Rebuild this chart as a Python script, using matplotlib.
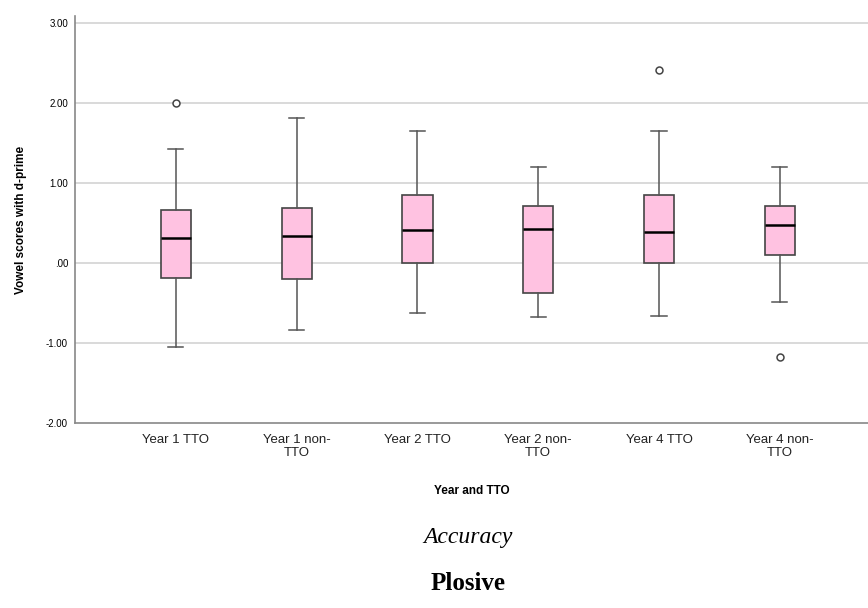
import matplotlib
matplotlib.use("Agg")
import matplotlib.pyplot as plt

# Box statistics (d-prime scores)
groups = ["Year 1 TTO", "Year 1 non-\nTTO", "Year 2 TTO",
          "Year 2 non-\nTTO", "Year 4 TTO", "Year 4 non-\nTTO"]
whisker_low = [-1.05, -0.84, -0.62, -0.67, -0.66, -0.49]
q1 = [-0.19, -0.20, 0.00, -0.37, 0.00, 0.10]
medians = [0.31, 0.34, 0.41, 0.43, 0.39, 0.47]
q3 = [0.67, 0.69, 0.85, 0.72, 0.85, 0.72]
whisker_high = [1.43, 1.82, 1.65, 1.20, 1.65, 1.20]
outliers = [[2.00], [], [], [], [2.41], [-1.18]]

y_ticks = [-2, -1, 0, 1, 2, 3]
y_tick_labels = ["-2.00", "-1.00", ".00", "1.00", "2.00", "3.00"]

stats = []
for i in range(len(groups)):
    stats.append({"whislo": whisker_low[i], "q1": q1[i], "med": medians[i],
                  "q3": q3[i], "whishi": whisker_high[i], "fliers": outliers[i]})

fig = plt.figure(figsize=(8.68, 6.08), dpi=100)
ax = fig.add_axes([75 / 868, 1 - 423 / 608, 1 - 75 / 868, 407 / 608])

ax.bxp(stats, positions=range(len(groups)), widths=0.25, patch_artist=True,
       boxprops=dict(facecolor="#ffc2e1", edgecolor="#444444", linewidth=1.2),
       medianprops=dict(color="black", linewidth=1.8),
       whiskerprops=dict(color="#555555", linewidth=1.1),
       capprops=dict(color="#555555", linewidth=1.1),
       flierprops=dict(marker="o", markersize=5, markerfacecolor="white",
                       markeredgecolor="#444444", markeredgewidth=1.1),
       zorder=3)

ax.set_xlim(-0.835, 5.73)
ax.set_ylim(-2, 3.09)

# light horizontal reference lines
for v in [-1, 0, 1, 2, 3]:
    ax.axhline(v, color="#cfcfcf", linewidth=1.1, zorder=1)

ax.set_yticks(y_ticks)
ax.set_yticklabels(y_tick_labels, fontsize=7, family="Liberation Sans")
ax.set_xticks(range(len(groups)))
ax.set_xticklabels(groups, fontsize=9.5, family="Liberation Sans",
                   color="#222222", linespacing=1.05)
ax.tick_params(length=0, pad=8)
ax.tick_params(axis="y", pad=5)

for side in ["top", "right"]:
    ax.spines[side].set_visible(False)
for side in ["left", "bottom"]:
    ax.spines[side].set_color("#888888")
    ax.spines[side].set_linewidth(1.2)

ax.set_xlabel("Year and TTO", fontsize=8.5, fontweight="bold",
              family="Liberation Sans", labelpad=19)
ax.set_ylabel("Vowel scores with d-prime", fontsize=8.5, fontweight="bold",
              family="Liberation Sans", labelpad=14)

fig.text(468 / 868, 1 - 538 / 608, "Accuracy", fontsize=17, style="italic",
         family="Liberation Serif", ha="center", va="center")
fig.text(468 / 868, 1 - 583 / 608, "Plosive", fontsize=18, fontweight="bold",
         family="Liberation Serif", ha="center", va="center")

fig.savefig("out.png", dpi=100)
